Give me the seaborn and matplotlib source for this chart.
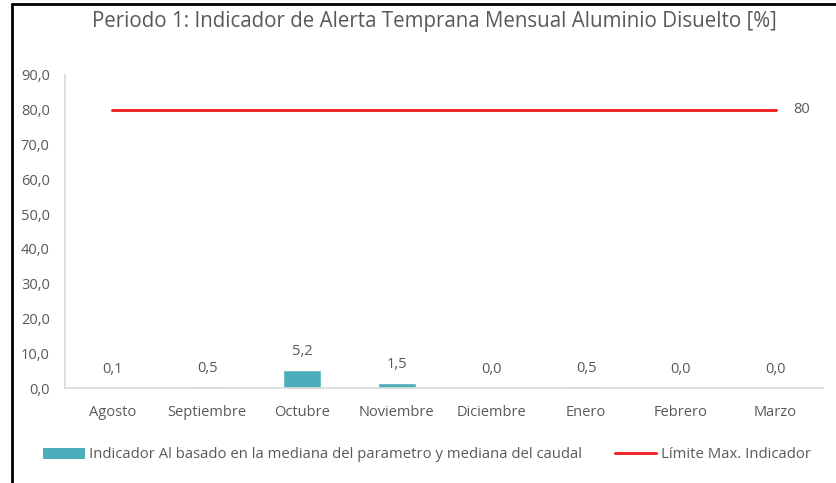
import matplotlib
matplotlib.use("Agg")
import matplotlib.pyplot as plt
import seaborn as sns
import pandas as pd
from matplotlib.lines import Line2D
from matplotlib.patches import Patch
from matplotlib.ticker import FuncFormatter

months = ["Agosto", "Septiembre", "Octubre", "Noviembre", "Diciembre", "Enero", "Febrero", "Marzo"]
indicador = [0.1, 0.5, 5.2, 1.5, 0.0, 0.5, 0.0, 0.0]
limite = [80, 80, 80, 80, 80, 80, 80, 80]
bar_label = "Indicador Al basado en la mediana del parametro y mediana del caudal"
line_label = "Límite Max. Indicador"
title = "Periodo 1: Indicador de Alerta Temprana Mensual Aluminio Disuelto [%]"

sns.set_style("white")
plt.rcParams["font.family"] = ["Open Sans", "DejaVu Sans"]

W, H = 837, 483
fig = plt.figure(figsize=(W / 100, H / 100), dpi=100)
ax = fig.add_axes([65 / W, 1 - 388 / H, (823 - 65) / W, (388 - 75) / H])

df = pd.DataFrame({"mes": months, "valor": indicador, "lim": limite})
teal = "#4BADBA"
red = "#F0282C"
gray = "#595959"

sns.barplot(data=df, x="mes", y="valor", color=teal, width=0.4, ax=ax, saturation=1)
sns.lineplot(x=list(range(len(months))), y=df["lim"], color=red, linewidth=2.2, ax=ax)

ax.set_xlim(-0.5, len(months) - 0.5)
ax.set_ylim(0, 90)
ax.set_yticks(range(0, 91, 10))
ax.yaxis.set_major_formatter(FuncFormatter(lambda v, p: f"{v:.1f}".replace(".", ",")))
ax.set_xlabel("")
ax.set_ylabel("")
ax.tick_params(axis="both", length=0, labelsize=10.5, colors=gray)
ax.tick_params(axis="x", pad=12)
ax.tick_params(axis="y", pad=11)
for s in ["top", "right"]:
    ax.spines[s].set_visible(False)
for s in ["left", "bottom"]:
    ax.spines[s].set_color("#D9D9D9")
    ax.spines[s].set_linewidth(1.2)

for i, v in enumerate(indicador):
    ax.annotate(f"{v:.1f}".replace(".", ","), (i, v), xytext=(0, 13), textcoords="offset points",
                ha="center", va="center", fontsize=10.5, color=gray)
ax.annotate(f"{limite[-1]}", (len(months) - 1, limite[-1]), xytext=(19, 0), textcoords="offset points",
            ha="center", va="center", fontsize=10.5, color=gray)

fig.text(434 / W, 1 - 22 / H, title, ha="center", va="center", fontsize=14.8, color=gray)

handles = [Patch(facecolor=teal, edgecolor="none"), Line2D([0], [0], color=red, linewidth=2.2)]
fig.legend(handles, [bar_label, line_label], loc="center", bbox_to_anchor=(427 / W, 1 - 455 / H),
           ncol=2, frameon=False, fontsize=10.7, labelcolor=gray, handlelength=2.8, handleheight=0.7,
           handletextpad=0.3, columnspacing=2.2)

fig.add_artist(Line2D([12 / W, 1], [1 - 4 / H, 1 - 4 / H], transform=fig.transFigure, color="black", linewidth=2))
fig.add_artist(Line2D([12 / W, 12 / W], [0, 1 - 4 / H], transform=fig.transFigure, color="black", linewidth=2))

fig.savefig("out.png", dpi=100)
